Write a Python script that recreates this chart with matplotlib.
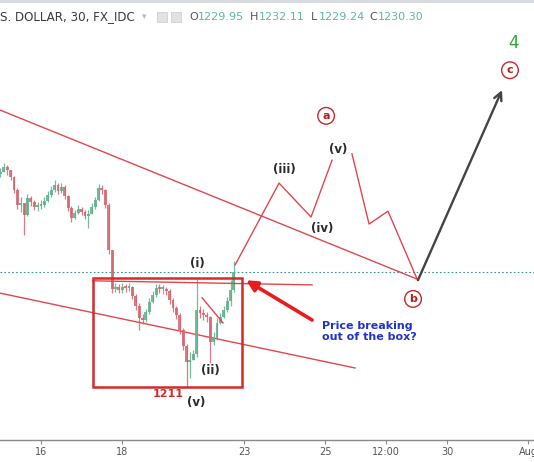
import numpy as np
import matplotlib
matplotlib.use("Agg")
import matplotlib.pyplot as plt
from matplotlib.patches import Rectangle

# ---- data: 2-hour bars, time in trading hours from Jul 16 00:00 ----
hours = list(range(-24, 115, 2))
closes = [1247.4, 1248.2, 1247.7, 1246.5, 1244.3, 1241.8, 1242.1, 1240.0, 1243.0, 1242.3,
          1241.4, 1241.6, 1241.8, 1242.4, 1243.5, 1244.3, 1245.2, 1244.1, 1244.8, 1243.3,
          1241.2, 1239.5, 1240.4, 1241.1, 1240.6, 1239.9, 1240.2, 1241.4, 1242.6, 1244.7,
          1244.3, 1241.8, 1234.1, 1227.4, 1227.7, 1227.2, 1227.7, 1227.6, 1227.7, 1226.2,
          1224.5, 1222.4, 1222.1, 1223.5, 1225.2, 1226.4, 1227.6, 1227.4, 1227.4, 1227.1,
          1225.5, 1224.1, 1223.0, 1220.4, 1217.6, 1214.9, 1215.3, 1216.3, 1223.8, 1223.3,
          1223.0, 1222.6, 1218.3, 1219.0, 1221.6, 1222.6, 1223.8, 1225.3, 1227.2, 1230.3]
highs = [1248.1, 1249.0, 1248.6, 1247.7, 1246.7, 1244.7, 1243.1, 1242.1, 1243.6, 1243.3,
         1242.6, 1242.3, 1242.6, 1243.1, 1244.1, 1245.0, 1246.0, 1245.5, 1245.5, 1245.2,
         1243.5, 1241.6, 1240.9, 1241.8, 1241.4, 1240.9, 1240.9, 1242.1, 1243.1, 1245.4,
         1245.2, 1244.5, 1242.1, 1234.1, 1228.4, 1228.3, 1228.4, 1228.3, 1228.4, 1227.9,
         1226.5, 1225.0, 1223.1, 1224.0, 1225.9, 1227.1, 1228.3, 1228.3, 1228.1, 1227.7,
         1227.4, 1225.9, 1224.5, 1223.3, 1220.7, 1218.0, 1216.6, 1217.0, 1229.1, 1224.5,
         1224.0, 1223.5, 1222.8, 1220.0, 1222.4, 1223.3, 1224.5, 1226.0, 1229.0, 1232.1]
lows = [1246.5, 1247.4, 1246.9, 1246.0, 1243.8, 1241.1, 1240.6, 1236.6, 1239.9, 1241.6,
        1240.9, 1240.7, 1241.1, 1241.4, 1242.3, 1243.1, 1244.0, 1243.6, 1243.8, 1242.8,
        1240.7, 1238.9, 1239.4, 1240.2, 1240.0, 1239.4, 1237.8, 1240.4, 1241.1, 1242.4,
        1243.6, 1241.2, 1233.4, 1226.7, 1226.9, 1226.7, 1226.7, 1226.9, 1227.1, 1225.7,
        1223.8, 1220.4, 1221.4, 1221.8, 1223.1, 1225.0, 1226.0, 1226.7, 1226.5, 1226.4,
        1224.8, 1223.5, 1222.3, 1219.7, 1217.0, 1210.6, 1212.2, 1215.3, 1215.8, 1222.4,
        1222.1, 1221.8, 1214.8, 1217.8, 1218.7, 1221.4, 1222.4, 1223.5, 1224.5, 1226.9]
first_open = 1247.0
last_price = 1230.3

tick_hours = [0, 48, 120, 168, 204, 240, 288]
tick_labels = ["16", "18", "23", "25", "12:00", "30", "Aug"]

# drawings (hours, price)
upper_line = [(-24.3, 1258.0), (222.3, 1229.1)]
lower_line = [(-24.3, 1226.7), (185.6, 1213.9)]
box = [(30.7, 1210.6), (118.8, 1229.3)]
box_top_line = [(30.7, 1228.8), (160.2, 1228.1)]
small_diag = [(95.2, 1225.9), (107.6, 1221.6)]
wave1 = [(114.7, 1231.5), (140.7, 1245.5), (159.6, 1239.7), (172.0, 1249.4)]
wave2 = [(183.8, 1250.5), (193.9, 1238.5), (205.1, 1240.7), (222.3, 1229.1)]
black_arrow = [(222.8, 1228.9), (272.5, 1261.4)]
red_arrow = [(160.2, 1222.1), (121.2, 1228.9)]

W, H = 534, 462
fig = plt.figure(figsize=(W / 100, H / 100), dpi=100)
ax = fig.add_axes([0, 22 / H, 1, 440 / H])
ax.set_xlim(-24.25, 291.4)
ax.set_ylim(1276.8 - 440 / 5.85, 1276.8)

up_c, dn_c = "#5fae8c", "#d6646e"
opens = [first_open] + closes[:-1]
for t, o, c, hi, lo in zip(hours, opens, closes, highs, lows):
    col = up_c if c >= o else dn_c
    hi = max(hi, o, c)
    lo = min(lo, o, c)
    ax.vlines(t, lo, hi, color=col, lw=0.9, alpha=0.85, zorder=3)
    ax.bar(t, max(abs(c - o), 0.35), bottom=min(o, c), width=1.7, color=col,
           edgecolor="none", alpha=0.85, zorder=3)

ax.axhline(last_price, color="#3b9494", lw=0.8, ls=(0, (1.5, 2)), zorder=2)

red = "#e0474c"
ax.plot(*zip(*upper_line), color=red, lw=1.0, zorder=2)
ax.plot(*zip(*lower_line), color=red, lw=1.0, zorder=2)
ax.plot(*zip(*box_top_line), color=red, lw=1.0, zorder=4)
ax.plot(*zip(*small_diag), color=red, lw=1.0, zorder=4)
ax.plot(*zip(*wave1), color=red, lw=1.0, zorder=4)
ax.plot(*zip(*wave2), color=red, lw=1.0, zorder=4)
ax.add_patch(Rectangle(box[0], box[1][0] - box[0][0], box[1][1] - box[0][1],
                       fill=False, ec="#d42a2a", lw=1.8, zorder=5))

ax.annotate("", xy=black_arrow[1], xytext=black_arrow[0],
            arrowprops=dict(arrowstyle="->", color="#444444", lw=1.7,
                            mutation_scale=14, shrinkA=0, shrinkB=0), zorder=6)
ax.annotate("", xy=red_arrow[1], xytext=red_arrow[0],
            arrowprops=dict(arrowstyle="-|>", color="#e81c1c", lw=2.6,
                            mutation_scale=16, shrinkA=0, shrinkB=0), zorder=6)

lbl = dict(fontsize=8.5, fontweight="bold", color="#2a2a2a", ha="center", va="center", zorder=7)
ax.text(92.2, 1231.8, "(i)", **lbl)
ax.text(99.9, 1213.5, "(ii)", **lbl)
ax.text(91.5, 1208.0, "(v)", **lbl)
ax.text(143.6, 1247.9, "(iii)", **lbl)
ax.text(166.1, 1237.8, "(iv)", **lbl)
ax.text(175.6, 1251.2, "(v)", **lbl)
ax.text(75.1, 1209.4, "1211", fontsize=8, fontweight="bold", color="#d42a2a",
        ha="center", va="center", zorder=7)

circ = dict(fontsize=8, fontweight="bold", color="#b71c1c", ha="center", va="center", zorder=7,
            bbox=dict(boxstyle="circle,pad=0.3", fc="white", ec="#c62828", lw=1.0))
ax.text(168.5, 1257.0, "a", **circ)
ax.text(219.9, 1225.7, "b", **circ)
ax.text(277.2, 1264.8, "c", **circ)
ax.text(279.0, 1269.4, "4", fontsize=12, color="#33a833", ha="center", va="center")

ax.text(166.1, 1220.1, "Price breaking\nout of the box?", fontsize=8, fontweight="bold",
        color="#2233cc", ha="left", va="center", linespacing=1.1, zorder=7)

for s in ["top", "left", "right"]:
    ax.spines[s].set_visible(False)
ax.spines["bottom"].set_color("#8a8a8a")
ax.spines["bottom"].set_linewidth(1.0)
ax.set_yticks([])
ax.set_xticks(tick_hours)
ax.set_xticklabels(tick_labels)
ax.tick_params(axis="x", length=3, color="#8a8a8a", labelsize=7, labelcolor="#555555", pad=2)

# header
def fx(px):
    return px / W
def fy(py):
    return 1 - py / H
fig.patches.append(Rectangle((0, fy(2.5)), 1, 2.5 / H, transform=fig.transFigure,
                             fc="#d8dbe2", ec="none"))
fig.text(fx(0), fy(17), "S. DOLLAR, 30, FX_IDC", fontsize=8.6, color="#3a3a3a", va="center")
fig.text(fx(142), fy(17), "\u25be", fontsize=6.5, color="#b8b8b8", va="center")
for px in (157, 171):
    fig.patches.append(Rectangle((fx(px), fy(22)), 10 / W, 10 / H, transform=fig.transFigure,
                                 fc="#e2e2e2", ec="#cfcfcf", lw=0.6))
teal = "#5dba98"
parts = [(189, "O", "#555555"), (197.5, "1229.95", teal), (250, "H", "#555555"),
         (258.5, "1232.11", teal), (311, "L", "#555555"), (318.5, "1229.24", teal),
         (369, "C", "#555555"), (378, "1230.30", teal)]
for px, s, c in parts:
    fig.text(fx(px), fy(17), s, fontsize=8, color=c, va="center")

fig.savefig("out.png", dpi=100)
